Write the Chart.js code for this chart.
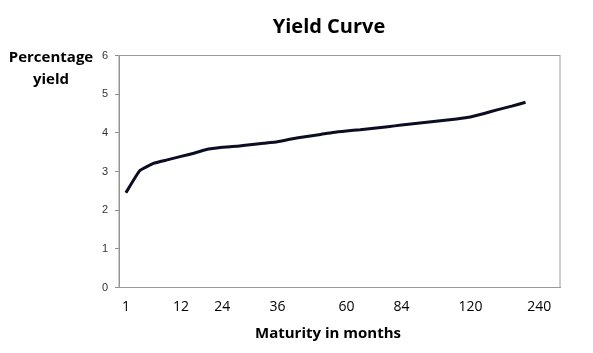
<!DOCTYPE html>
<html>
<head>
<meta charset="utf-8">
<script src="https://cdn.jsdelivr.net/npm/chart.js@4"></script>
<style>
  html, body { margin: 0; padding: 0; background: #fff; }
  #wrap { position: relative; width: 593px; height: 353px; }
  .lbl { position: absolute; transform: translate(-50%, -50%); font-family: "Open Sans", sans-serif; font-weight: bold; color: #000; white-space: nowrap; text-align: center; line-height: 1; }
</style>
</head>
<body>
<div id="wrap">
  <canvas id="yieldChart" width="593" height="353"></canvas>
  <div class="lbl" style="left:329px; top:26px; font-size:20px;">Yield Curve</div>
  <div class="lbl" style="left:51px; top:68px; font-size:15px; line-height:21.6px;">Percentage<br>yield</div>
  <div class="lbl" style="left:328px; top:332px; font-size:15px;">Maturity in months</div>
</div>
<script>
// maturity labels under the axis (only some categories carry a label)
let maturityLabels = ["1", "", "", "", "12", "", "", "24", "", "", "", "36", "", "", "", "",
  "60", "", "", "", "84", "", "", "", "", "120", "", "", "", "", "240", ""];

// yield in percent
let yieldValues = [2.45, 3.02, 3.21, 3.30, 3.39, 3.48, 3.58, 3.63, 3.65, 3.69,
  3.73, 3.77, 3.84, 3.90, 3.95, 4.01, 4.05, 4.08, 4.12, 4.16,
  4.20, 4.24, 4.28, 4.32, 4.36, 4.41, 4.50, 4.60, 4.69, 4.79];

let yTicks = [0, 1, 2, 3, 4, 5, 6];

// cadre gris autour de la zone de tracé
const frame = {
  id: "frame",
  beforeDatasetsDraw(chart) {
    const { ctx, chartArea } = chart;
    ctx.save();
    ctx.strokeStyle = "#9a9a9a";
    ctx.lineWidth = 1;
    ctx.strokeRect(chartArea.left, chartArea.top, chartArea.right - chartArea.left, chartArea.bottom - chartArea.top);
    ctx.restore();
  }
};

let yChart = new Chart(document.getElementById("yieldChart"), {
  type: "line",
  data: {
    labels: maturityLabels,
    datasets: [
      {
        data: yieldValues,
        borderColor: "#0c0c22",
        borderWidth: 3,
        pointRadius: 0,
        tension: 0.12,
        fill: false
      }
    ]
  },
  options: {
    responsive: false,
    animation: false,
    layout: { padding: { left: 0, right: 33, top: 55.5, bottom: 0 } },
    plugins: {
      legend: { display: false },
      title: { display: false },
      tooltip: { enabled: false }
    },
    scales: {
      x: {
        type: "category",
        offset: true,
        grid: { display: false },
        border: { display: true, color: "#8c8c8c", width: 1 },
        ticks: {
          autoSkip: false,
          maxRotation: 0,
          minRotation: 0,
          padding: 3,
          color: "#000",
          font: { family: "Open Sans", size: 14 }
        },
        afterFit(scale) {
          scale.height = 65.5;
        }
      },
      y: {
        min: 0,
        max: 6,
        afterBuildTicks(scale) {
          scale.ticks = yTicks.map((v) => ({ value: v }));
        },
        grid: { display: true, drawOnChartArea: false, drawTicks: true, tickLength: 4, color: "#8c8c8c" },
        border: { display: true, color: "#8c8c8c", width: 1 },
        ticks: {
          padding: 7,
          color: "#333",
          font: { family: "Liberation Sans", size: 11 }
        },
        afterFit(scale) {
          scale.width = 119;
        }
      }
    }
  },
  plugins: [frame]
});
</script>
</body>
</html>
